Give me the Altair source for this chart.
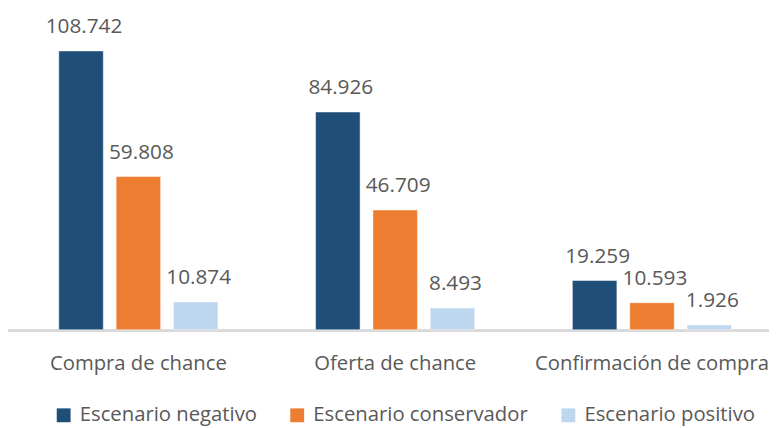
import altair as alt
import pandas as pd

categories = ["Compra de chance", "Oferta de chance", "Confirmación de compra"]
series = ["Escenario negativo", "Escenario conservador", "Escenario positivo"]
negativo = [108.742, 84.926, 19.259]
conservador = [59.808, 46.709, 10.593]
positivo = [10.874, 8.493, 1.926]
colors = ["#1F4E79", "#ED7D31", "#BDD7EE"]

rows = []
for s, vals in zip(series, [negativo, conservador, positivo]):
    for c, v in zip(categories, vals):
        rows.append({"categoria": c, "escenario": s, "valor": v})
df = pd.DataFrame(rows)

FONT = "Open Sans"
GRAY = "#595959"
W = 755.5
LEFT = 13.5

x = alt.X(
    "categoria:N",
    sort=categories,
    scale=alt.Scale(paddingInner=0.38, paddingOuter=0.1457),
    axis=alt.Axis(
        title=None, labelAngle=0, ticks=False, tickSize=0, labelPadding=40,
        labelBaseline="alphabetic", labelFontSize=20.5, labelFont=FONT,
        labelColor=GRAY, domain=False, labelLimit=0, labelOverlap=False,
        grid=False,
    ),
)
xo = alt.XOffset("escenario:N", sort=series,
                 scale=alt.Scale(paddingInner=0.2235, paddingOuter=0))
yscale = alt.Scale(domain=[0, 120], nice=False)
y = alt.Y("valor:Q", scale=yscale, axis=None)
color = alt.Color(
    "escenario:N", sort=series,
    scale=alt.Scale(domain=series, range=colors),
    legend=alt.Legend(
        orient="none", legendX=54 - 8 - LEFT, legendY=387, direction="horizontal",
        columns=3, title=None, symbolType="square", symbolSize=196,
        symbolStrokeWidth=0, labelFontSize=20.5, labelFont=FONT,
        labelColor=GRAY, columnPadding=30, padding=0, labelOffset=6,
        labelLimit=0,
    ),
)

baseline = (
    alt.Chart(df)
    .transform_calculate(zero="0")
    .mark_rule(color="#D9D9D9", strokeWidth=2, yOffset=1)
    .encode(x=alt.value(-LEFT - 1), x2=alt.value(W),
            y=alt.Y("zero:Q", scale=yscale, axis=None))
)

bars = alt.Chart(df).mark_bar(stroke="white", strokeWidth=0.5).encode(
    x=x, xOffset=xo, y=y, color=color
)
labels = alt.Chart(df).mark_text(
    dy=-18, dx=3, baseline="alphabetic", fontSize=21, font=FONT, color=GRAY
).encode(x=x, xOffset=xo, y=y, text=alt.Text("valor:Q", format=".3f"))

chart = (
    alt.layer(baseline, bars, labels)
    .properties(
        width=W, height=311,
        autosize=alt.AutoSizeParams(type="none"),
        padding={"left": LEFT, "top": 12, "right": 0, "bottom": 97},
    )
    .configure_view(stroke=None)
)

chart.save("out.html", embed_options={"renderer": "svg", "actions": False})
